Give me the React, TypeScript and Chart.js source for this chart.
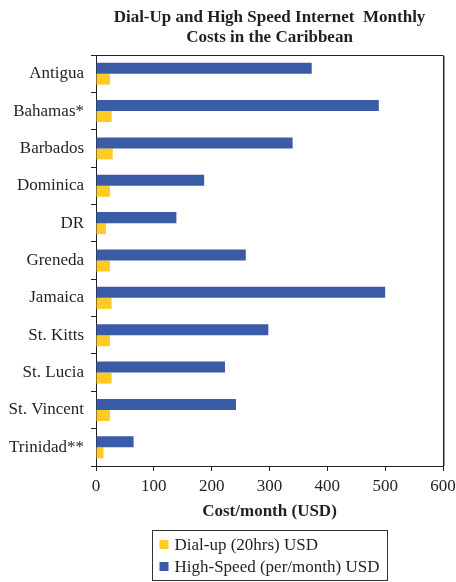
import React, { useEffect, useRef } from "react";
import { Chart, registerables } from "chart.js";

Chart.register(...registerables);

const categories = [
  "Antigua",
  "Bahamas*",
  "Barbados",
  "Dominica",
  "DR",
  "Greneda",
  "Jamaica",
  "St. Kitts",
  "St. Lucia",
  "St. Vincent",
  "Trinidad**",
];
const highSpeed = [373, 489, 340, 187, 139, 259, 500, 298, 223, 242, 65];
const dialUp = [24, 27, 29, 24, 17, 24, 27, 24, 27, 24, 13];
const xTicks = [0, 100, 200, 300, 400, 500, 600];
const titleLines = ["Dial-Up and High Speed Internet  Monthly", "Costs in the Caribbean"];
const xTitle = "Cost/month (USD)";
const dialName = "Dial-up (20hrs) USD";
const highName = "High-Speed (per/month) USD";

const FONT = "'Liberation Serif', 'Times New Roman', serif";
const TEXT = "#231f20";
const BLUE = "#3a5ba6";
const YELLOW = "#fdcb24";

const decor = {
  id: "decor",
  afterDraw(chart: any) {
    const { ctx, chartArea: a } = chart;
    ctx.save();
    // frame top & right
    ctx.strokeStyle = "#222";
    ctx.lineWidth = 1;
    ctx.beginPath();
    ctx.moveTo(a.left, a.top + 0.5);
    ctx.lineTo(a.right + 0.5, a.top + 0.5);
    ctx.lineTo(a.right + 0.5, a.bottom);
    ctx.stroke();
    ctx.strokeStyle = "#999";
    ctx.beginPath();
    ctx.moveTo(a.right + 1.5, a.top + 1);
    ctx.lineTo(a.right + 1.5, a.bottom);
    ctx.stroke();

    const cx = (a.left + a.right) / 2;
    // title
    ctx.fillStyle = TEXT;
    ctx.font = `bold 17px ${FONT}`;
    ctx.textAlign = "center";
    ctx.textBaseline = "alphabetic";
    titleLines.forEach((t, i) => ctx.fillText(t, cx, a.top - 33 + i * 20));

    // legend (reverse dataset order)
    const items = chart.data.datasets
      .slice()
      .reverse()
      .map((d: any) => ({ label: d.label, color: d.backgroundColor }));
    ctx.font = `17px ${FONT}`;
    const maxW = Math.max(...items.map((it: any) => ctx.measureText(it.label).width));
    const boxW = Math.round(7 + 9 + 6 + maxW + 8);
    const boxH = 50;
    const boxL = Math.round(cx - boxW / 2) + 0.5;
    const boxT = 530.5;
    ctx.strokeStyle = "#333";
    ctx.lineWidth = 1;
    ctx.strokeRect(boxL, boxT, boxW, boxH);
    ctx.textAlign = "left";
    ctx.textBaseline = "alphabetic";
    items.forEach((it: any, i: number) => {
      const base = boxT + 19.5 + i * 22;
      ctx.fillStyle = it.color;
      ctx.fillRect(boxL + 7, base - 10, 9, 9);
      ctx.fillStyle = TEXT;
      ctx.fillText(it.label, boxL + 7 + 9 + 6, base);
    });
    ctx.restore();
  },
};

export default function App() {
  const ref = useRef<HTMLCanvasElement | null>(null);
  useEffect(() => {
    document.body.style.margin = "0";
    const canvas = ref.current;
    if (!canvas) return;
    const tickFont = { family: FONT, size: 17 };
    const chart = new Chart(canvas, {
      type: "bar",
      data: {
        labels: categories,
        datasets: [
          { label: highName, data: highSpeed, backgroundColor: BLUE, borderWidth: 0 },
          { label: dialName, data: dialUp, backgroundColor: YELLOW, borderWidth: 0 },
        ],
      },
      options: {
        indexAxis: "y",
        responsive: false,
        animation: false,
        devicePixelRatio: 1,
        layout: { padding: { top: 55, right: 0, left: 0, bottom: 0 } },
        datasets: { bar: { categoryPercentage: 0.59, barPercentage: 1 } } as any,
        plugins: {
          legend: { display: false },
          title: { display: false },
          tooltip: { enabled: false },
        },
        scales: {
          x: {
            min: 0,
            max: 600,
            afterBuildTicks: (s: any) => {
              s.ticks = xTicks.map((v) => ({ value: v }));
            },
            ticks: { font: tickFont, color: TEXT, padding: 5, maxRotation: 0 },
            grid: { drawOnChartArea: false, tickLength: 5, color: "#222" },
            border: { color: "#222" },
            title: {
              display: true,
              text: xTitle,
              color: TEXT,
              font: { family: FONT, size: 17, weight: "bold" },
              padding: { top: 0, bottom: 60 },
            },
            afterFit: (s: any) => {
              s.height = 116;
              s.paddingRight = 13;
              s.paddingLeft = 0;
            },
          },
          y: {
            ticks: { font: tickFont, color: TEXT, padding: 7 },
            grid: { drawOnChartArea: false, tickLength: 5, color: "#222", offset: true },
            border: { color: "#222" },
            afterFit: (s: any) => {
              s.width = 96;
              s.paddingTop = 0;
              s.paddingBottom = 0;
            },
          },
        },
      },
      plugins: [decor],
    });
    return () => chart.destroy();
  }, []);
  return <canvas ref={ref} width={456} height={582} style={{ display: "block" }} />;
}
